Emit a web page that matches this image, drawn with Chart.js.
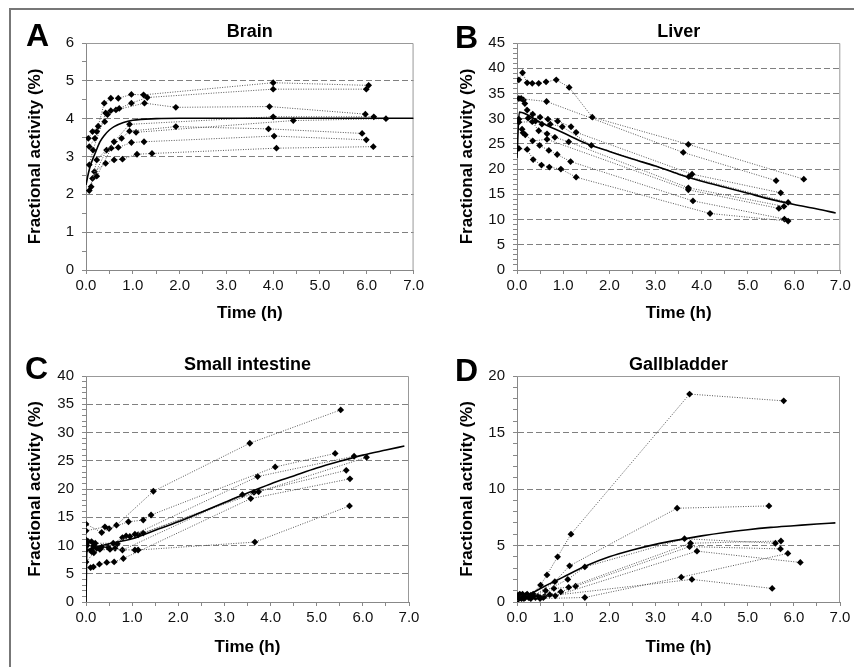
<!DOCTYPE html>
<html><head><meta charset="utf-8">
<script src="https://cdn.jsdelivr.net/npm/chart.js@4.4.1/dist/chart.umd.min.js"></script>
<style>
html,body{margin:0;padding:0;background:#fff;width:854px;height:667px;overflow:hidden;position:relative;}
#frame{position:absolute;left:9px;top:8px;width:900px;height:700px;border-left:2px solid #777;border-top:2px solid #777;}
canvas{position:absolute;}
.lt{position:absolute;font:bold 32px "Liberation Sans",Arial,sans-serif;line-height:32px;color:#000;}
</style></head><body>
<div id="frame"></div>
<canvas id="cA" width="427" height="333" style="left:0;top:0;width:427px;height:333px"></canvas>
<canvas id="cB" width="427" height="333" style="left:427px;top:0;width:427px;height:333px"></canvas>
<canvas id="cC" width="427" height="334" style="left:0;top:333px;width:427px;height:334px"></canvas>
<canvas id="cD" width="427" height="334" style="left:427px;top:333px;width:427px;height:334px"></canvas>
<div class="lt" style="left:26px;top:19px">A</div>
<div class="lt" style="left:455px;top:21px">B</div>
<div class="lt" style="left:25px;top:352px">C</div>
<div class="lt" style="left:455px;top:354px">D</div>
<script>
// ---------- DATA ----------
const xTickLabels = ["0.0","1.0","2.0","3.0","4.0","5.0","6.0","7.0"];
const panelTitles = ["Brain","Liver","Small intestine","Gallbladder"];
const yAxisTitle = "Fractional activity (%)";
const xAxisTitle = "Time (h)";

const brainSubjects = [
 [[0.05,3.48],[0.14,3.66],[0.26,3.80],[0.39,4.41],[0.53,4.54],[0.69,4.54],[0.97,4.64],[1.23,4.63],[4.0,4.95],[6.04,4.88]],
 [[0.07,3.26],[0.19,3.48],[0.23,3.66],[0.40,3.92],[0.46,4.11],[0.53,4.21],[0.71,4.27],[0.97,4.41],[1.31,4.56],[4.0,4.78],[5.99,4.78]],
 [[0.07,2.78],[0.15,3.17],[0.42,4.15],[0.64,4.23],[1.25,4.41],[1.92,4.30],[3.92,4.32],[5.97,4.12]],
 [[0.11,2.20],[0.23,2.91],[0.60,3.39],[0.93,3.85],[4.0,4.05],[6.15,4.05]],
 [[0.14,2.42],[0.44,3.17],[0.76,3.48],[0.93,3.67],[1.92,3.79],[3.90,3.73],[5.90,3.61]],
 [[0.07,2.10],[0.18,2.60],[0.42,2.82],[0.60,2.91],[0.78,2.93],[1.09,3.06],[1.41,3.08],[4.07,3.22],[6.14,3.26]],
 [[0.23,2.48],[0.54,3.22],[0.69,3.24],[0.97,3.37],[1.24,3.39],[4.02,3.54],[5.99,3.44]],
 [[1.07,3.64],[4.43,3.95],[6.41,4.00]]
];
const brainFitT = [0,0.05,0.1,0.15,0.2,0.3,0.4,0.5,0.6,0.8,1.0,1.5,2,3,4,5,6,7];
const brainFitV = [2.25,2.55,2.78,2.95,3.1,3.39,3.57,3.7,3.79,3.9,3.96,4.0,4.01,4.01,4.01,4.01,4.01,4.01];

const liverSubjects = [
 [[0.04,37.7],[0.12,39.1],[0.22,37.1],[0.33,37.0],[0.47,37.0],[0.63,37.3],[0.85,37.7],[1.13,36.2],[1.63,30.3],[3.71,24.9],[6.21,18.0]],
 [[0.04,34.0],[0.64,33.4],[3.60,23.3],[5.61,17.7]],
 [[0.09,34.0],[0.14,33.7],[0.17,33.0],[0.22,31.7],[0.34,30.9],[0.50,30.3],[0.67,29.9],[0.88,29.5],[1.17,28.4],[1.28,27.3],[3.79,19.0],[5.71,15.3]],
 [[0.04,29.9],[0.24,30.1],[0.40,29.5],[0.54,28.9],[0.72,28.9],[0.98,28.4],[1.61,24.7],[3.72,18.5],[5.87,13.4]],
 [[0.04,29.3],[0.33,29.4],[0.47,27.6],[0.65,27.0],[0.82,26.3],[1.12,25.4],[3.71,16.3],[5.78,12.6]],
 [[0.11,27.9],[0.13,27.2],[0.18,26.8],[0.34,25.6],[0.65,25.9],[3.71,15.9],[5.67,12.2]],
 [[0.04,24.1],[0.22,23.9],[0.35,21.9],[0.53,20.8],[0.70,20.4],[0.95,20.0],[1.28,18.4],[4.18,11.2],[5.87,9.7]],
 [[0.49,24.7],[0.69,23.7],[0.87,22.9],[1.16,21.5],[3.81,13.7],[5.79,10.1]]
];
const liverFitT = [0,0.05,0.5,1,1.5,2,2.5,3,3.5,4,4.5,5,5.5,6,6.5,6.9];
const liverFitV = [22.2,31.3,29.3,27.2,25.1,23.5,22.0,20.6,19.0,17.6,16.4,15.2,14.0,13.0,12.1,11.3];

const intestineSubjects = [
 [[0.0,13.8],[0.34,12.3],[0.66,13.6],[1.46,19.6],[3.55,28.1],[5.52,34.0]],
 [[0.0,12.6],[0.41,13.3],[0.50,13.0],[0.92,14.2],[1.24,14.5],[1.41,15.4],[4.10,23.9],[5.40,26.3]],
 [[0.0,11.0],[0.12,10.7],[0.20,10.4],[0.59,10.4],[0.95,11.6],[1.06,12.0],[3.72,22.2],[5.81,25.8]],
 [[0.05,10.7],[0.16,9.9],[0.34,9.7],[0.68,10.3],[0.87,11.7],[1.24,12.2],[3.74,19.5],[6.08,25.6]],
 [[0.0,9.2],[0.12,9.2],[0.23,9.5],[0.48,9.7],[0.79,11.4],[1.13,11.9],[3.64,19.4],[5.64,23.3]],
 [[0.0,7.1],[0.17,8.7],[0.30,9.3],[0.52,9.3],[1.06,9.2],[1.13,9.2],[3.66,10.6],[5.71,17.0]],
 [[0.10,6.1],[0.16,6.2],[0.29,6.7],[0.45,7.0],[0.61,7.1],[0.81,7.7],[3.57,18.3],[5.72,21.8]],
 [[0.02,10.0],[0.12,8.9],[0.63,9.5],[0.79,9.2],[3.39,19.0]]
];
const intestineFitT = [0,0.02,0.1,0.3,0.5,1,1.5,2,2.5,3,3.5,4,4.5,5,5.5,6,6.5,6.9];
const intestineFitV = [0,9.0,9.4,9.9,10.3,11.2,12.7,14.2,15.9,17.6,19.3,20.9,22.3,23.7,24.9,26.0,26.9,27.6];

const gallSubjects = [
 [[0.02,0.6],[0.15,0.5],[0.30,0.6],[0.51,1.5],[0.65,2.4],[0.88,4.0],[1.17,6.0],[3.74,18.4],[5.78,17.8]],
 [[0.05,0.4],[0.20,0.6],[0.35,0.5],[0.82,1.8],[1.14,3.2],[3.47,8.3],[5.46,8.5]],
 [[0.02,0.4],[0.12,0.7],[0.28,0.4],[0.62,1.0],[1.10,2.0],[1.47,3.1],[3.63,5.6],[5.60,5.2]],
 [[0.08,0.5],[0.25,0.4],[0.50,0.4],[0.80,1.2],[1.12,1.3],[3.76,5.2],[5.72,5.4]],
 [[0.10,0.3],[0.22,0.7],[0.45,0.5],[0.71,0.65],[0.95,0.9],[1.27,1.4],[3.74,4.9],[5.71,4.7]],
 [[0.03,0.5],[0.18,0.4],[0.40,0.4],[0.57,0.4],[0.83,0.55],[3.90,4.5],[6.14,3.5]],
 [[0.06,0.7],[0.30,0.3],[0.50,0.3],[1.47,0.4],[3.56,2.2],[5.87,4.3]],
 [[0.15,0.3],[0.35,0.7],[0.60,0.5],[3.79,2.0],[5.53,1.2]]
];
const gallFitT = [0,0.2,0.4,0.6,0.8,1,1.5,2,2.5,3,3.5,4,4.5,5,5.5,6,6.5,6.9];
const gallFitV = [0,0.45,0.95,1.4,1.8,2.2,3.2,4.0,4.6,5.1,5.5,5.85,6.15,6.4,6.6,6.75,6.9,7.0];

// ---------- RENDERING ----------
const FONT = '"Liberation Sans", Arial, sans-serif';
const frameBox = {
  id: 'frameBox',
  beforeDatasetsDraw(chart) {
    const {ctx, chartArea: a} = chart;
    ctx.save();
    ctx.strokeStyle = '#999';
    ctx.lineWidth = 1;
    ctx.beginPath();
    ctx.moveTo(a.left, a.top + 0.5);
    ctx.lineTo(a.right - 0.5, a.top + 0.5);
    ctx.lineTo(a.right - 0.5, a.bottom);
    ctx.stroke();
    ctx.restore();
  }
};

function isMajor(v, major) { return Math.abs(v / major - Math.round(v / major)) < 1e-6; }

function makePanel(id, title, subjects, fitT, fitV, yMax, yMajor, yMinor, geo) {
  const datasets = subjects.map(s => ({
    data: s.map(p => ({x: p[0], y: p[1]})),
    showLine: true,
    borderColor: '#555',
    borderWidth: 1,
    borderDash: [1, 1.5],
    pointStyle: 'rectRot',
    pointRadius: 3.4,
    pointBackgroundColor: '#000',
    pointBorderWidth: 0,
    order: 2
  }));
  datasets.push({
    data: fitT.map((t, i) => ({x: t, y: fitV[i]})),
    showLine: true,
    borderColor: '#000',
    borderWidth: 1.6,
    pointRadius: 0,
    cubicInterpolationMode: 'monotone',
    order: 1
  });
  return new Chart(document.getElementById(id), {
    type: 'scatter',
    data: {datasets},
    options: {
      responsive: false,
      animation: false,
      events: [],
      layout: {padding: {left: 0, right: geo.right, top: 0, bottom: 0}},
      plugins: {
        legend: {display: false},
        tooltip: {enabled: false},
        title: {
          display: true, text: title, color: '#000', fullSize: false,
          font: {family: FONT, size: 18, weight: 'bold', lineHeight: 1.2},
          padding: {top: 21, bottom: 0.4}
        }
      },
      scales: {
        x: {
          type: 'linear', min: 0, max: 7,
          afterBuildTicks: sc => { const t = []; for (let i = 0; i <= 14; i++) t.push({value: i * 0.5}); sc.ticks = t; },
          afterFit: sc => { sc.height = geo.xh; },
          ticks: {
            autoSkip: false, maxRotation: 0, padding: 3, color: '#111',
            font: {family: FONT, size: 15},
            callback: v => isMajor(v, 1) ? xTickLabels[Math.round(v)] : ''
          },
          grid: {drawOnChartArea: false, tickLength: 4, color: '#888', tickColor: '#888'},
          border: {color: '#888', width: 1},
          title: {display: true, text: xAxisTitle, color: '#000',
            font: {family: FONT, size: 17, weight: 'bold', lineHeight: 1.2},
            padding: {top: 0, bottom: 9.8}}
        },
        y: {
          type: 'linear', min: 0, max: yMax,
          afterBuildTicks: sc => { const t = []; const n = Math.round(yMax / yMinor); for (let i = 0; i <= n; i++) t.push({value: i * yMinor}); sc.ticks = t; },
          afterFit: sc => { sc.width = geo.yw; },
          ticks: {
            autoSkip: false, padding: 8, color: '#111',
            font: {family: FONT, size: 15},
            callback: v => isMajor(v, yMajor) ? String(Math.round(v)) : ''
          },
          grid: {
            tickLength: 4, tickColor: '#888', lineWidth: 1,
            color: c => (c.tick && isMajor(c.tick.value, yMajor) && c.tick.value > 0 && c.tick.value < yMax) ? '#808080' : 'rgba(0,0,0,0)'
          },
          border: {color: '#888', width: 1, dash: [6, 3]},
          title: {display: true, text: yAxisTitle, color: '#000',
            font: {family: FONT, size: 17, weight: 'bold', lineHeight: 1.2},
            padding: {top: geo.yt, bottom: 0}}
        }
      }
    },
    plugins: [frameBox]
  });
}

makePanel('cA', panelTitles[0], brainSubjects, brainFitT, brainFitV, 6, 1, 0.5, {right: 11, xh: 63, yw: 86, yt: 24.8});
makePanel('cB', panelTitles[1], liverSubjects, liverFitT, liverFitV, 45, 5, 1, {right: 13.7, xh: 63, yw: 90, yt: 29.8});
makePanel('cC', panelTitles[2], intestineSubjects, intestineFitT, intestineFitV, 40, 5, 1, {right: 18, xh: 65, yw: 86, yt: 24.8});
makePanel('cD', panelTitles[3], gallSubjects, gallFitT, gallFitV, 20, 5, 1, {right: 14, xh: 65, yw: 90, yt: 29.8});
</script>
</body></html>
